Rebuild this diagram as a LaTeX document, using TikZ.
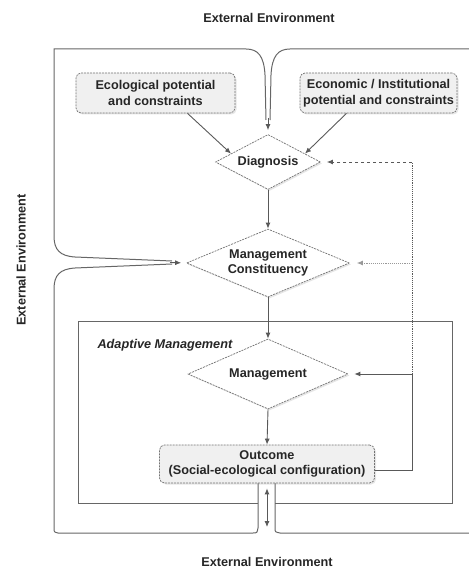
\documentclass[tikz,border=0pt]{standalone}
\usepackage{fontspec}
\setmainfont{Liberation Sans}
\usetikzlibrary{shapes.geometric,arrows.meta,shadows,calc}
\begin{document}
\begin{tikzpicture}[x=1bp,y=-1bp,
  font=\fontsize{12.7bp}{15.5bp}\selectfont\bfseries,
  text=black!85,
  ln/.style={draw=black!65, line width=0.9bp},
  arr/.style={ln, -{Latex[length=6bp,width=5bp]}},
  frame/.style={draw=black!60, line width=1bp},
  box/.style={draw=black!55, dash pattern=on 2bp off 1bp, line width=0.7bp,
    rounded corners=5bp, fill=black!6, align=center, inner sep=0pt,
    drop shadow={shadow xshift=1.5bp, shadow yshift=-1.5bp, opacity=0.2}},
  dia/.style={diamond, draw=black!55, dash pattern=on 2bp off 1bp, line width=0.7bp,
    fill=white, align=center, inner sep=0pt,
    drop shadow={shadow xshift=1.5bp, shadow yshift=-1.5bp, opacity=0.2}}]
\useasboundingbox (0,0) rectangle (469,569);

% frames
\draw[frame] (266,120) -- (265,75) .. controls (264,56) and (258,49) .. (246,49)
  -- (54,49) -- (54,236) .. controls (54,250) and (60,256) .. (75,257) -- (172,261);
\draw[frame] (172,264) -- (75,268) .. controls (60,269) and (54,275) .. (54,289)
  -- (54,528) .. controls (54,532) .. (58,533) -- (253,533)
  .. controls (257,533) .. (258,528) -- (258,483);
\draw[frame] (270,120) -- (271,75) .. controls (272,56) and (278,49) .. (290,49) -- (469,49);
\draw[frame] (275,483) -- (275,528) .. controls (275,532) .. (280,533) -- (469,533);
\draw[frame] (258,503) -- (78,503) -- (78,321) -- (452,321) -- (452,503) -- (275,503);

% nodes
\node[box, minimum width=159bp, minimum height=40bp] (eco) at (155.5,93) {Ecological potential\\and constraints};
\node[box, minimum width=157bp, minimum height=40bp] (econ) at (378.5,93) {Economic / Institutional\\potential and constraints};
\node[dia, aspect=1.91, minimum width=105bp, minimum height=55bp] (dia) at (268,162) {Diagnosis};
\node[dia, aspect=2.4, minimum width=163bp, minimum height=68bp] (mc) at (268,263) {Management\\Constituency};
\node[dia, aspect=2.29, minimum width=160bp, minimum height=70bp] (mg) at (268,374) {Management};
\node[box, minimum width=215bp, minimum height=38bp] (out) at (267,464) {Outcome\\(Social-ecological configuration)};

\node (tt) at (269,18) {External Environment};
\node (bt) at (267,562) {External Environment};
\node[rotate=90] (lt) at (21,260) {External Environment};
\node[anchor=west, font=\fontsize{12.7bp}{15.5bp}\selectfont\bfseries\itshape] (am) at (94,345) {Adaptive Management};

% coordinates
\coordinate (tf) at (268,118);
\coordinate (lf) at (170,262.5);
\coordinate (bc) at (267,527);
\coordinate (fb1) at (412,374);
\coordinate (fb2) at (412,162);
\coordinate (fb3) at (412,263);

% connectors
\draw[arr, shorten >=4bp] (tf) -- (dia.north);
\draw[arr, shorten >=5bp] (lf) -- (mc.west);
\draw[arr] ([xshift=32bp]eco.south) -- ($(dia.west)!0.3!(dia.north)$);
\draw[arr] ([xshift=-32bp]econ.south) -- ($(dia.east)!0.3!(dia.north)$);
\draw[arr] (dia.south) -- (mc.north);
\draw[arr] (mc.south) -- (mg.north);
\draw[arr] (mg.south) -- (out.north);
\draw[ln, {Latex[length=6bp,width=5bp]}-{Latex[length=6bp,width=5bp]}, shorten <=5bp] (out.south) -- (bc);
\draw[ln] ([yshift=-6bp]out.east) -| (fb1);
\draw[arr, shorten >=6bp] (fb1) -- (mg.east);
\draw[ln, densely dotted] (fb1) -- (fb2);
\draw[arr, dashed, shorten >=6bp] (fb2) -- (dia.east);
\draw[arr, densely dotted, draw=black!40, shorten >=7bp] (fb3) -- (mc.east);
\end{tikzpicture}
\end{document}
